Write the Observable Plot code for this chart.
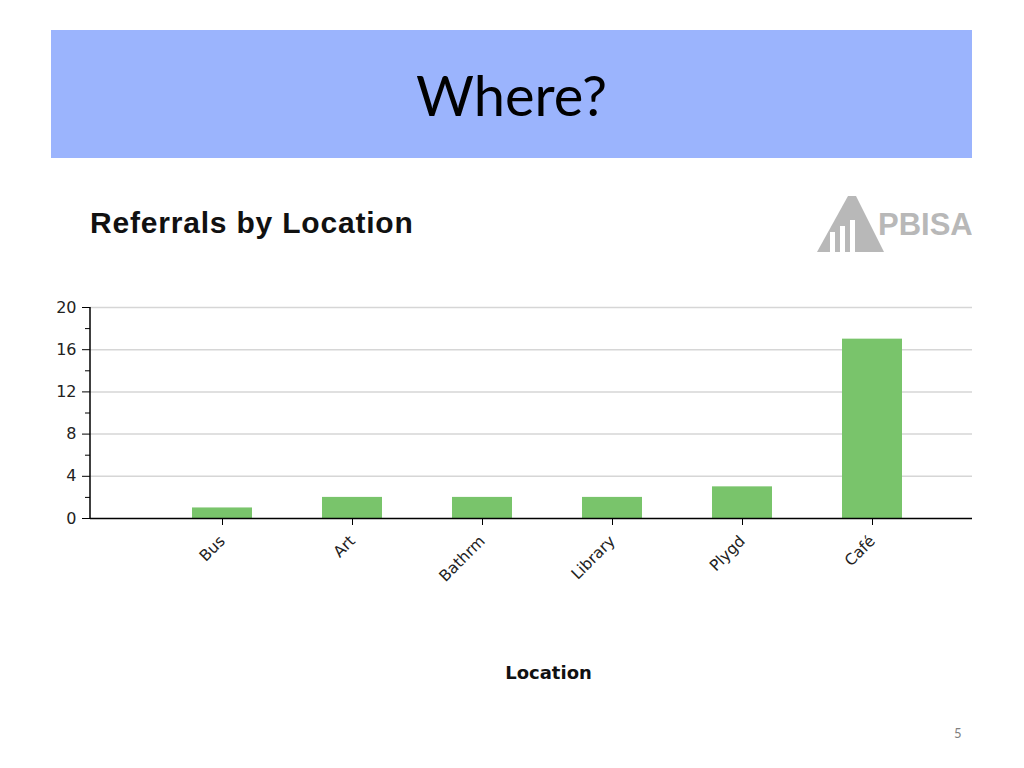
<!DOCTYPE html>
<html>
<head>
<meta charset="utf-8">
<script src="https://cdn.jsdelivr.net/npm/d3@7"></script>
<script src="https://cdn.jsdelivr.net/npm/@observablehq/plot@0.6"></script>
<style>
  html, body { margin: 0; padding: 0; background: #fff; }
  #page { position: relative; width: 1024px; height: 768px; overflow: hidden; background: #fff; }
  #band { position: absolute; left: 51px; top: 30px; width: 921px; height: 128px; background: #9bb4fd; }
  #band h1 { margin: 0; position: absolute; left: 0; right: 0; top: 37px; text-align: center;
    font-family: Lato, "Open Sans", sans-serif; font-weight: 400; font-size: 56px; line-height: 1; color: #000; }
  #ctitle { position: absolute; left: 90px; top: 206px; font-family: "Liberation Sans", Arial, sans-serif;
    font-weight: bold; font-size: 30px; letter-spacing: 0.8px; color: #111; }
  #logo { position: absolute; left: 810px; top: 190px; width: 162px; height: 70px; overflow: hidden; }
  #chart { position: absolute; left: 0; top: 290px; }
  #pnum { position: absolute; left: 954px; top: 725px; font-family: Lato, sans-serif; font-size: 13px; color: #808080; }
</style>
</head>
<body>
<div id="page">
  <div id="band"><h1>Where?</h1></div>
  <div id="ctitle">Referrals by Location</div>
  <div id="logo">
    <svg width="162" height="70" viewBox="0 0 162 70">
      <polygon points="7,62 38,6 46,6 74,62" fill="#b8b8b8"/>
      <rect x="20" y="42" width="5" height="20" fill="#fff"/>
      <rect x="30" y="36" width="5" height="26" fill="#fff"/>
      <rect x="40" y="30" width="5" height="32" fill="#fff"/>
      <text x="68" y="45" font-family="Liberation Sans, Arial" font-weight="bold" font-size="31" fill="#b8b8b8">PBISA</text>
    </svg>
  </div>
  <div id="chart"></div>
  <div id="pnum">5</div>
</div>
<script>
const locations = ["Bus", "Art", "Bathrm", "Library", "Plygd", "Café"];
const referrals = [1, 2, 2, 2, 3, 17];
const majorTicks = [0, 4, 8, 12, 16, 20];
const minorTicks = [2, 6, 10, 14, 18];
const axisTitle = "Location";

const data = locations.map((loc, i) => ({loc, n: referrals[i]}));

const leftAxisLine = (index, scales, values, dimensions) => {
  const {marginLeft, marginTop, height, marginBottom} = dimensions;
  const line = document.createElementNS("http://www.w3.org/2000/svg", "line");
  line.setAttribute("x1", marginLeft);
  line.setAttribute("x2", marginLeft);
  line.setAttribute("y1", marginTop);
  line.setAttribute("y2", height - marginBottom);
  line.setAttribute("stroke", "#000");
  line.setAttribute("stroke-width", 1.5);
  return line;
};

const chart = Plot.plot({
  width: 1024,
  height: 400,
  marginLeft: 90,
  marginRight: 52,
  marginTop: 17,
  marginBottom: 172,
  style: {fontFamily: "DejaVu Sans, sans-serif", color: "#222", background: "transparent"},
  x: {type: "band", domain: locations, range: [156, 938], paddingInner: 0.54, paddingOuter: 0.27},
  y: {domain: [0, 20]},
  marks: [
    Plot.gridY(majorTicks.filter(d => d > 0), {stroke: "#d6d6d6", strokeOpacity: 1, strokeWidth: 1.5}),
    Plot.barY(data, {x: "loc", y: "n", fill: "#79c46b"}),
    Plot.axisY(majorTicks, {tickSize: 8, tickPadding: 6, fontSize: 16, label: null, stroke: "#000"}),
    Plot.axisY(minorTicks, {tickSize: 5, tickFormat: () => "", label: null, stroke: "#000"}),
    Plot.axisX({tickRotate: -45, tickSize: 7, tickPadding: 13, fontSize: 15.5, label: null, stroke: "#000"}),
    Plot.ruleY([0], {stroke: "#000", strokeWidth: 1.5}),
    leftAxisLine,
    Plot.text([axisTitle], {frameAnchor: "bottom", dx: 17, dy: 160, fontSize: 18, fontWeight: "bold", fill: "#111"})
  ]
});
document.getElementById("chart").appendChild(chart);
</script>
</body>
</html>
